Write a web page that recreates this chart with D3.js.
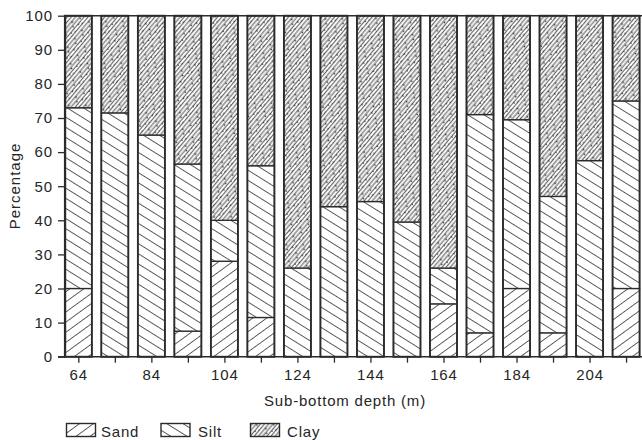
<!DOCTYPE html>
<html>
<head>
<meta charset="utf-8">
<script src="https://cdn.jsdelivr.net/npm/d3@7/dist/d3.min.js"></script>
<style>
  html, body { margin: 0; padding: 0; background: #fff; }
  svg { display: block; }
  text { font-family: "Liberation Sans", Arial, Helvetica, sans-serif; fill: #262626; }
</style>
</head>
<body>
<div id="chart"></div>
<script>
// Grain-size composition of sediment samples by sub-bottom depth (m)
const depths = [64, 74, 84, 94, 104, 114, 124, 134, 144, 154, 164, 174, 184, 194, 204, 214];
const sand   = [20, 0, 0, 7.5, 28, 11.5, 0, 0, 0, 0, 15.5, 7, 20, 7, 0, 20];
const silt   = [53, 71.5, 65, 49, 12, 44.5, 26, 44, 45.5, 39.5, 10.5, 64, 49.5, 40, 57.5, 55];
const clay   = [27, 28.5, 35, 43.5, 60, 44, 74, 56, 54.5, 60.5, 74, 29, 30.5, 53, 42.5, 25];
const components = ["Sand", "Silt", "Clay"];
const yTicks = [0, 10, 20, 30, 40, 50, 60, 70, 80, 90, 100];
const xTickLabels = [64, 84, 104, 124, 144, 164, 184, 204];

const W = 642, H = 440;
const ink = "#2b2b2b";

const svg = d3.select("#chart").append("svg")
  .attr("width", W).attr("height", H);

const x = d3.scaleLinear().domain([60.35, 218.5]).range([65, 642.5]);
const y = d3.scaleLinear().domain([0, 100]).range([356.7, 15.7]);
const halfBar = 3.7; // bar half-width in metres

// ---- fill patterns ----
const defs = svg.append("defs");

function hatch(id, angle, gap, stroke, sw, dots) {
  const w = dots ? 11 : gap;
  const h = dots ? gap * 4 : gap;
  const p = defs.append("pattern")
    .attr("id", id)
    .attr("patternUnits", "userSpaceOnUse")
    .attr("width", w).attr("height", h)
    .attr("patternTransform", `rotate(${angle})`);
  p.append("rect").attr("width", w).attr("height", h).attr("fill", "#fff");
  const n = dots ? 4 : 1;
  for (let i = 0; i < n; i++) {
    p.append("line")
      .attr("x1", 0).attr("x2", w)
      .attr("y1", i * gap + gap / 2).attr("y2", i * gap + gap / 2)
      .attr("stroke", stroke).attr("stroke-width", sw);
  }
  if (dots) {
    [[2, 1.2], [7.5, 5.6], [4.5, 9.2], [9.6, 11.9]].forEach(([cx, cy]) => {
      p.append("circle").attr("cx", cx).attr("cy", cy).attr("r", 0.8).attr("fill", "#333");
    });
  }
}
hatch("pat-sand", -36, 8.2, "#555", 0.95, false);
hatch("pat-silt", 32, 8.6, "#555", 0.95, false);
hatch("pat-clay", -50, 3.2, "#555", 1.05, true);

const fills = { Sand: "url(#pat-sand)", Silt: "url(#pat-silt)", Clay: "url(#pat-clay)" };

// ---- stacked bars ----
const rows = depths.map((d, i) => ({ depth: d, Sand: sand[i], Silt: silt[i], Clay: clay[i] }));
const stack = d3.stack().keys(components)(rows);

const plot = svg.append("g");
stack.forEach(layer => {
  plot.append("g")
    .selectAll("rect")
    .data(layer.filter(s => s[1] - s[0] > 0))
    .join("rect")
    .attr("x", s => x(s.data.depth - halfBar))
    .attr("width", s => x(s.data.depth + halfBar) - x(s.data.depth - halfBar))
    .attr("y", s => y(s[1]))
    .attr("height", s => y(s[0]) - y(s[1]))
    .attr("fill", fills[layer.key])
    .attr("stroke", ink)
    .attr("stroke-width", 1.3);
});

// vertical bar edges drawn heavier on top
plot.append("g").selectAll("rect")
  .data(depths)
  .join("rect")
  .attr("x", d => x(d - halfBar))
  .attr("width", d => x(d + halfBar) - x(d - halfBar))
  .attr("y", y(100))
  .attr("height", y(0) - y(100))
  .attr("fill", "none")
  .attr("stroke", ink)
  .attr("stroke-width", 1.8);

// top frame line
svg.append("line")
  .attr("x1", x.range()[0]).attr("x2", W)
  .attr("y1", y(100)).attr("y2", y(100))
  .attr("stroke", ink).attr("stroke-width", 1.4);

// ---- axes ----
const yAxis = svg.append("g")
  .attr("transform", `translate(${x.range()[0]},0)`)
  .call(d3.axisLeft(y).tickValues(yTicks).tickSize(7).tickPadding(5).tickSizeOuter(0));

const xAxis = svg.append("g")
  .attr("transform", `translate(0,${y(0)})`)
  .call(d3.axisBottom(x).tickValues(depths).tickSize(6).tickPadding(7).tickSizeOuter(0)
    .tickFormat(d => xTickLabels.includes(d) ? d : ""));

xAxis.select(".domain").attr("d", `M${x.range()[0] - 7},0H${W}`);

[yAxis, xAxis].forEach(a => {
  a.select(".domain").attr("stroke", ink).attr("stroke-width", 1.4);
  a.selectAll(".tick line").attr("stroke", ink).attr("stroke-width", 1.3);
  a.selectAll(".tick text")
    .attr("fill", "#262626")
    .style("font-size", "15px")
    .style("letter-spacing", "0.9px")
    .style("font-family", "'Liberation Sans', Arial, sans-serif");
});

// ---- titles ----
svg.append("text")
  .attr("x", 345).attr("y", 406)
  .attr("text-anchor", "middle")
  .style("font-size", "15px")
  .style("letter-spacing", "0.8px")
  .text("Sub-bottom depth (m)");

svg.append("text")
  .attr("transform", "translate(20,186) rotate(-90)")
  .attr("text-anchor", "middle")
  .style("font-size", "15px")
  .style("letter-spacing", "1px")
  .text("Percentage");

// ---- legend ----
const legendPos = [
  { key: "Sand", bx: 66.5, tx: 101 },
  { key: "Silt", bx: 161, tx: 198 },
  { key: "Clay", bx: 250.5, tx: 287 }
];
const legend = svg.append("g");
legendPos.forEach(l => {
  legend.append("rect")
    .attr("x", l.bx).attr("y", 423.5)
    .attr("width", 29).attr("height", 13)
    .attr("fill", fills[l.key])
    .attr("stroke", ink).attr("stroke-width", 1.4);
  legend.append("text")
    .attr("x", l.tx).attr("y", 436.5)
    .style("font-size", "15px")
    .style("letter-spacing", "0.8px")
    .text(l.key);
});
</script>
</body>
</html>
